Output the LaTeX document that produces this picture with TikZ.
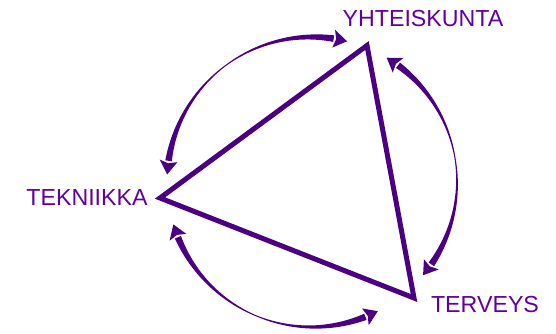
\documentclass[tikz,border=0pt]{standalone}
\usepackage{fontspec}
\setmainfont{Liberation Sans}
\usepackage{xcolor}
\usetikzlibrary{positioning}
\definecolor{cyclePurple}{HTML}{4B0082}
\definecolor{labelPurple}{HTML}{6000A0}
\tikzset{
  lbl/.style={text=labelPurple,font=\fontsize{23.2}{28}\selectfont,inner sep=0pt},
  edge/.style={draw=cyclePurple,line width=5pt,miter limit=10},
  flow/.style={fill=cyclePurple},
  declare function={hw(\t)=0.5+1.35*abs(\t)+1.45*\t*\t;},
}
\begin{document}
\begin{tikzpicture}[x=1pt,y=1pt]
\useasboundingbox (0,0) rectangle (556,334);
\coordinate (c) at (312,152);
\coordinate (yht) at (367,288.5);
\coordinate (tek) at (160,136);
\coordinate (ter) at (414,36);
\node[lbl] (yht-l) at (423,315.5) {YHTEISKUNTA};
\node[lbl] (tek-l) at (87,136) {TEKNIIKKA};
\node[lbl] (ter-l) at (485,29) {TERVEYS};
\draw[edge] (yht) -- (tek) -- (ter) -- cycle;
% two-way arcs, thin in the middle
\begin{scope}[shift={(c)}]
\foreach \a/\b in {76/177, 59/-40, -63/-163}{
  \pgfmathsetmacro\sgn{sign(\b-\a)}
  \pgfmathsetmacro\ta{\a+\sgn*5.4}
  \pgfmathsetmacro\tb{\b-\sgn*5.4}
  \fill[flow] plot[domain=\ta:\tb,samples=60] (\x:{145+hw(2*(\x-\ta)/(\tb-\ta)-1)})
    -- plot[domain=\tb:\ta,samples=60] (\x:{145-hw(2*(\x-\ta)/(\tb-\ta)-1)}) -- cycle;
  \fill[flow] (\a:145) -- (\ta:154) -- ({\ta-\sgn*1}:145) -- (\ta:136) -- cycle;
  \fill[flow] (\b:145) -- (\tb:154) -- ({\tb+\sgn*1}:145) -- (\tb:136) -- cycle;
}
\end{scope}
\end{tikzpicture}
\end{document}
